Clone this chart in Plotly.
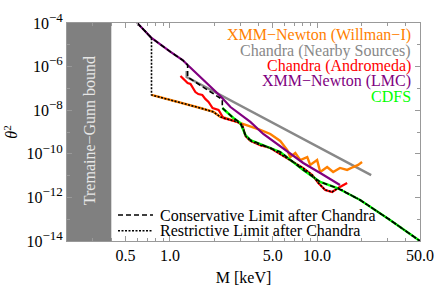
import plotly.graph_objects as go

# ---------------- data ----------------
tg_bound = [0.2, 0.4]  # Tremaine-Gunn excluded band, keV

lmc_M = [0.60, 0.75, 1.01, 1.22, 1.32, 1.61, 1.88, 2.20, 2.58, 2.87, 3.52, 4.31, 5.62, 8.05, 10.5, 14.3]
lmc_t = [1e-4, 2.05e-5, 4.7e-6, 2.0e-6, 1.18e-6, 3.3e-7, 1.29e-7, 4.5e-8, 1.40e-8, 8.3e-9,
         2.9e-9, 8.1e-10, 2.3e-10, 3.8e-11, 1.32e-11, 3.7e-12]

near_M = [1.30, 1.30, 23.3]
near_t = [6.3e-7, 3.3e-7, 1.05e-11]

andr_M = [1.18, 1.24, 1.32, 1.38, 1.42, 1.49, 1.56, 1.66, 1.74, 1.83, 1.95, 2.14, 2.31, 2.58,
          2.87, 3.10, 3.26, 3.52, 4.11, 4.81, 6.27, 8.05, 9.27, 10.2, 11.35, 12.65, 13.9, 16.0]
andr_t = [3.7e-7, 2.7e-7, 1.77e-7, 1.59e-7, 1.16e-7, 6.8e-8, 5.5e-8, 5.0e-8, 3.3e-8, 2.4e-8,
          1.26e-8, 1.02e-8, 4.4e-9, 3.5e-9, 2.9e-9, 2.1e-9, 6.6e-10, 3.9e-10, 2.5e-10, 1.85e-10,
          6.4e-11, 2.2e-11, 1.07e-11, 4.6e-12, 2.2e-12, 1.77e-12, 2.7e-12, 4.6e-12]

will_M = [0.75, 1.09, 1.61, 1.98, 2.20, 2.38, 2.87, 3.36, 4.11, 4.81, 5.62, 6.27, 6.57, 7.11,
          7.68, 8.57, 8.98, 10.0, 10.5, 11.7, 12.85, 14.3, 16.0, 17.6, 19.0, 20.2]
will_t = [5.0e-8, 2.6e-8, 1.26e-8, 8.3e-9, 4.9e-9, 4.4e-9, 2.9e-9, 2.1e-9, 1.24e-9, 8.1e-10,
          3.9e-10, 1.49e-10, 7.1e-11, 1.09e-10, 5.2e-11, 7.1e-11, 3.1e-11, 5.2e-11, 1.47e-11,
          2.47e-11, 1.47e-11, 2.24e-11, 1.82e-11, 2.47e-11, 3.1e-11, 4.2e-11]

cdfs_M = [2.27, 2.70, 3.01, 3.26, 3.52, 4.59, 5.62, 8.05, 10.5, 13.7, 16.8, 19.6, 31.3, 50.0]
cdfs_t = [1.26e-8, 4.4e-9, 2.6e-9, 7.3e-10, 4.3e-10, 2.05e-10, 1.21e-10, 1.82e-11, 5.1e-12,
          2.7e-12, 1.29e-12, 7.6e-13, 9.2e-14, 1e-14]

cons_M = [0.60, 0.75, 1.01, 1.22, 1.32, 1.32, 2.27, 2.27, 2.70, 3.01, 3.26, 3.52, 4.59, 5.62,
          8.05, 10.5, 13.7, 16.8, 19.6, 31.3, 50.0]
cons_t = [1e-4, 2.05e-5, 4.7e-6, 2.0e-6, 1.18e-6, 3.3e-7, 3.1e-8, 1.26e-8, 4.4e-9, 2.6e-9,
          7.3e-10, 4.3e-10, 2.05e-10, 1.21e-10, 1.82e-11, 5.1e-12, 2.7e-12, 1.29e-12, 7.6e-13,
          9.2e-14, 1e-14]

rest_M = [0.60, 0.75, 0.75, 1.09, 1.61, 1.98, 2.20, 2.31, 2.58, 2.87, 3.10, 3.26, 3.52, 4.11,
          4.81, 6.27, 8.05, 9.27, 10.2, 11.35, 12.65, 13.9, 16.8, 19.6, 31.3, 50.0]
rest_t = [1e-4, 2.05e-5, 5.0e-8, 2.6e-8, 1.26e-8, 8.3e-9, 4.9e-9, 4.4e-9, 3.5e-9, 2.9e-9,
          2.1e-9, 6.6e-10, 3.9e-10, 2.5e-10, 1.85e-10, 6.4e-11, 2.2e-11, 1.07e-11, 4.6e-12,
          2.2e-12, 1.77e-12, 2.7e-12, 1.29e-12, 7.6e-13, 9.2e-14, 1e-14]

x_ticks = [0.5, 1.0, 5.0, 10.0, 50.0]
x_ticktext = ["0.5", "1.0", "5.0", "10.0", "50.0"]
y_ticks = [1e-4, 1e-6, 1e-8, 1e-10, 1e-12, 1e-14]
y_exps = ["−4", "−6", "−8", "−10", "−12", "−14"]
y_ticktext = ["10<sup><span style='font-size:13px'>%s</span></sup>" % e for e in y_exps]

series_names = ["XMM−Newton (Willman−I)", "Chandra (Nearby Sources)", "Chandra (Andromeda)",
                "XMM−Newton (LMC)", "CDFS"]
series_colors = ["#FF8000", "#888888", "#FF0000", "#800080", "#00FF00"]

FONT = "Liberation Serif"

fig = go.Figure()

# Tremaine-Gunn band
fig.add_trace(go.Scatter(x=[tg_bound[0], tg_bound[1], tg_bound[1], tg_bound[0]],
                         y=[1e-14, 1e-14, 1e-4, 1e-4], fill="toself", mode="lines",
                         line=dict(width=0), fillcolor="#808080", hoverinfo="skip"))

fig.add_trace(go.Scatter(x=near_M, y=near_t, mode="lines", line=dict(color=series_colors[1], width=2.4)))
fig.add_trace(go.Scatter(x=will_M, y=will_t, mode="lines", line=dict(color=series_colors[0], width=2.4)))
fig.add_trace(go.Scatter(x=andr_M, y=andr_t, mode="lines", line=dict(color=series_colors[2], width=2.2)))
fig.add_trace(go.Scatter(x=lmc_M, y=lmc_t, mode="lines", line=dict(color=series_colors[3], width=2.2)))
fig.add_trace(go.Scatter(x=cdfs_M, y=cdfs_t, mode="lines", line=dict(color=series_colors[4], width=2.4)))
fig.add_trace(go.Scatter(x=cons_M, y=cons_t, mode="lines", line=dict(color="black", width=1.6, dash="5px,3px")))
fig.add_trace(go.Scatter(x=rest_M, y=rest_t, mode="lines", line=dict(color="black", width=1.6, dash="2px,1.5px")))

ann = []
legend_y = [0.945, 0.873, 0.803, 0.733, 0.663]
for name, col, yy in zip(series_names, series_colors, legend_y):
    ann.append(dict(xref="paper", yref="paper", x=0.981, y=yy, xanchor="right", yanchor="middle",
                    text=name, showarrow=False, font=dict(family=FONT, size=16, color=col)))

ann.append(dict(xref="paper", yref="paper", x=0.066, y=0.505, text="Tremaine−Gunn bound",
                textangle=-90, showarrow=False, xanchor="center", yanchor="middle",
                font=dict(family=FONT, size=16, color="#E6E6E6")))
ann.append(dict(xref="paper", yref="paper", x=0.258, y=0.119, xanchor="left", yanchor="middle",
                text="Conservative Limit after Chandra", showarrow=False,
                font=dict(family=FONT, size=16, color="black")))
ann.append(dict(xref="paper", yref="paper", x=0.258, y=0.047, xanchor="left", yanchor="middle",
                text="Restrictive Limit after Chandra", showarrow=False,
                font=dict(family=FONT, size=16, color="black")))

shapes = [
    dict(type="line", xref="paper", yref="paper", x0=0.1445, x1=0.2436, y0=0.119, y1=0.119,
         line=dict(color="black", width=1.6, dash="5px,3px")),
    dict(type="line", xref="paper", yref="paper", x0=0.1445, x1=0.2436, y0=0.047, y1=0.047,
         line=dict(color="black", width=1.6, dash="2px,1.5px")),
]

x_minor = [0.3, 0.4, 0.6, 0.7, 0.8, 0.9, 2, 3, 4, 6, 7, 8, 9, 20, 30, 40]
y_minor = [10 ** (-e) for e in range(5, 14, 2)]

fig.update_layout(
    width=436, height=289, margin=dict(l=67, r=16, t=23, b=48, autoexpand=False),
    paper_bgcolor="white", plot_bgcolor="white", showlegend=False,
    font=dict(family=FONT, size=16, color="black"),
    annotations=ann, shapes=shapes,
    xaxis=dict(type="log", range=[-0.69897, 1.69897], tickvals=x_ticks, ticktext=x_ticktext,
               automargin=False,
               ticks="inside", ticklen=5, tickcolor="#999999", showline=True, linecolor="#999999",
               mirror="ticks", showgrid=False, zeroline=False,
               tickfont=dict(family=FONT, size=16, color="black"),
               minor=dict(tickvals=x_minor, ticks="inside", ticklen=3, tickcolor="#999999", showgrid=False),
               title=dict(text="M [keV]", font=dict(family=FONT, size=16), standoff=8)),
    yaxis=dict(type="log", range=[-14, -4], tickvals=y_ticks, ticktext=y_ticktext,
               automargin=False,
               ticks="inside", ticklen=5, tickcolor="#999999", showline=True, linecolor="#999999",
               mirror="ticks", showgrid=False, zeroline=False,
               tickfont=dict(family=FONT, size=16, color="black"),
               minor=dict(tickvals=y_minor, ticks="inside", ticklen=3, tickcolor="#999999", showgrid=False),
               title=dict(text="<i>θ</i><sup>2</sup>", font=dict(family=FONT, size=16), standoff=4)),
)

fig.write_html("out.html", config={"displayModeBar": False},
               post_script="document.body.style.margin='0px';document.body.style.padding='0px';")
